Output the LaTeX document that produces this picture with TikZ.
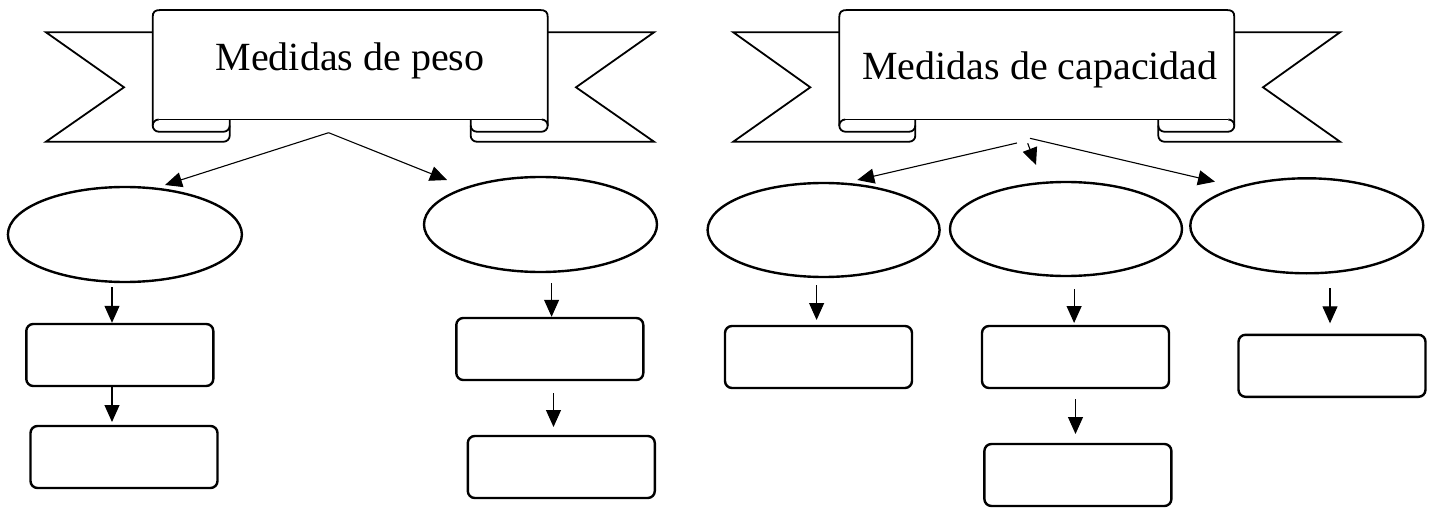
\documentclass[tikz,border=0pt]{standalone}
\usepackage{fontspec}
\setmainfont{Liberation Serif}
\usetikzlibrary{arrows.meta,shapes.geometric}
\tikzset{
  ribbonline/.style={line width=1.8pt, line join=miter},
  oval/.style={draw, ellipse, line width=2.4pt, inner sep=0pt},
  card/.style={draw, rectangle, rounded corners=7pt, line width=2.4pt, inner sep=0pt, minimum width=187pt, minimum height=62pt},
  link/.style={line width=1.1pt, -{Triangle[length=17pt,width=15pt]}},
  title/.style={font=\fontsize{40}{44}\selectfont, inner sep=0pt, anchor=base}
}
% #1 tail left, #2 panel left, #3 panel right, #4 tail right, #5 notch depth, #6 fold width
\newcommand\ribbonshape[6]{%
  \draw[ribbonline] (#2,32.3) -- (#1,32.3) -- ({#1+#5},87.3) -- (#1,141.7) -- ({#2+#6-6},141.7)
     .. controls ({#2+#6-2.7},141.7) and ({#2+#6},139) .. ({#2+#6},135.7) -- ({#2+#6},119.5);
  \draw[ribbonline] (#3,32.3) -- (#4,32.3) -- ({#4-#5},87.3) -- (#4,141.7) -- ({#3-#6+6},141.7)
     .. controls ({#3-#6+2.7},141.7) and ({#3-#6},139) .. ({#3-#6},135.7) -- ({#3-#6},119.5);
  \draw[ribbonline] (#2,125.6) -- (#2,17) .. controls (#2,12) and ({#2+2},10) .. ({#2+8},10)
     -- ({#3-8},10) .. controls ({#3-2},10) and (#3,12) .. (#3,17) -- (#3,125.6);
  \draw[ribbonline] ({#2+6},119.5) -- ({#3-6},119.5);
  \draw[ribbonline] ({#2+6},119.5) .. controls ({#2+2.7},119.5) and (#2,122.2) .. (#2,125.6)
     .. controls (#2,129) and ({#2+2.7},131.7) .. ({#2+6},131.7) -- ({#2+#6-6},131.7)
     .. controls ({#2+#6-2.7},131.7) and ({#2+#6},129) .. ({#2+#6},125.6);
  \draw[ribbonline] ({#3-6},119.5) .. controls ({#3-2.7},119.5) and (#3,122.2) .. (#3,125.6)
     .. controls (#3,129) and ({#3-2.7},131.7) .. ({#3-6},131.7) -- ({#3-#6+6},131.7)
     .. controls ({#3-#6+2.7},131.7) and ({#3-#6},129) .. ({#3-#6},125.6);
}
\begin{document}
\begin{tikzpicture}[x=1pt,y=-1pt]
\useasboundingbox (0,0) rectangle (1436,508);

% banners
\ribbonshape{46}{152.7}{547.7}{654}{78}{77}
\ribbonshape{733.3}{839.3}{1234.3}{1340}{77}{76}
\node[title] (t1) at (350,70.7) {Medidas de peso};
\node[title] (t2) at (1040,80) {Medidas de capacidad};

% left diagram
\node[oval, minimum width=234pt, minimum height=95pt] (e1) at (124.9,234.5) {};
\node[oval, minimum width=233pt, minimum height=95pt] (e2) at (540.5,224.5) {};
\node[card] (b1) at (119.8,355) {};
\node[card] (b2) at (124,457) {};
\node[card] (b3) at (549.8,349) {};
\node[card] (b4) at (561.3,467) {};

\coordinate (o1) at (328.6,132.7);
\coordinate (p1) at (165,185);
\coordinate (p2) at (447,180);
\draw[link] (o1) -- (p1);
\draw[link] (o1) -- (p2);

\coordinate (s1) at (112,287);
\coordinate (s2) at (112,387);
\coordinate (q2) at (112,422);
\coordinate (s3) at (551.6,283);
\coordinate (s4) at (553.5,393);
\coordinate (q4) at (553.5,427);
\draw[link] (s1) -- (s1 |- b1.north);
\draw[link] (s2) -- (q2);
\draw[link] (s3) -- (s3 |- b3.north);
\draw[link] (s4) -- (q4);

% right diagram
\node[oval, minimum width=232pt, minimum height=94pt] (eA) at (823.6,230) {};
\node[oval, minimum width=232pt, minimum height=94pt] (eB) at (1066,229) {};
\node[oval, minimum width=233pt, minimum height=95pt] (eC) at (1306.8,225.8) {};
\node[card] (bA) at (818.5,357) {};
\node[card] (bB) at (1075.5,357) {};
\node[card] (bC) at (1332,365.8) {};
\node[card] (bD) at (1077.9,475) {};

\coordinate (oL) at (1016.9,143);
\coordinate (oM) at (1027.7,143.3);
\coordinate (oR) at (1030,138.3);
\coordinate (pA) at (857.3,180);
\coordinate (pB) at (1036,165);
\coordinate (pC) at (1215,181.7);
\draw[link] (oL) -- (pA);
\draw[link] (oM) -- (pB);
\draw[link] (oR) -- (pC);

\coordinate (sA) at (816.6,285);
\coordinate (qA) at (816.6,320);
\coordinate (sB) at (1074.1,289);
\coordinate (qB) at (1074.1,323);
\coordinate (sC) at (1330,288.3);
\coordinate (qC) at (1330,323.3);
\coordinate (sD) at (1075.5,399);
\coordinate (qD) at (1075.5,434);
\draw[link] (sA) -- (qA);
\draw[link] (sB) -- (qB);
\draw[link] (sC) -- (qC);
\draw[link] (sD) -- (qD);
\end{tikzpicture}
\end{document}
